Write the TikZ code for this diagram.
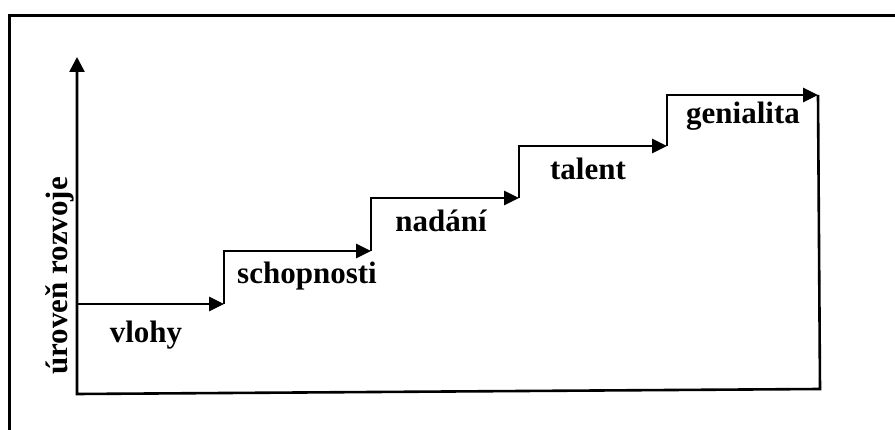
\documentclass[tikz,border=0pt]{standalone}
\usepackage{fontspec}
\setmainfont{Liberation Serif}
\usetikzlibrary{arrows.meta}
\tikzset{
  stair/.style = {line width=2.6pt, -{Triangle[length=15pt, width=14pt]}},
  word/.style = {font=\bfseries\fontsize{31}{36}\selectfont, anchor=base, inner sep=0pt}
}
\begin{document}
\begin{tikzpicture}[x=1pt, y=-1pt]
  \useasboundingbox (0, 0) rectangle (895, 430);
  \draw [line width=2.6pt] (9.5, 430) -- (9.5, 15.3) -- (895, 15.3);

  % axes
  \coordinate (top) at (77, 57);
  \coordinate (origin) at (77, 394);
  \coordinate (corner) at (820, 389);
  \coordinate (s0) at (77, 304);
  \coordinate (t1) at (224, 304);
  \coordinate (t2) at (371, 251);
  \coordinate (t3) at (519, 198);
  \coordinate (t4) at (667, 146);
  \coordinate (t5) at (818, 95);
  \draw [line width=2.6pt, {Triangle[length=15pt, width=15pt]}-] (top) -- (origin) -- (corner) -- (t5);

  % stairs
  \draw [stair] (s0) -- (t1);
  \foreach \a/\b in {t1/t2, t2/t3, t3/t4, t4/t5}
    \draw [stair] (\a) |- (\b);

  \node [word] (vlohy) at (146, 343) {vlohy};
  \node [word] (schopnosti) at (307, 284) {schopnosti};
  \node [word] (nadani) at (441, 232) {nadání};
  \node [word] (talent) at (588, 180) {talent};
  \node [word] (genialita) at (743, 124) {genialita};
  \node [word, rotate=90] (uroven) at (67, 276) {úroveň rozvoje};
\end{tikzpicture}
\end{document}
